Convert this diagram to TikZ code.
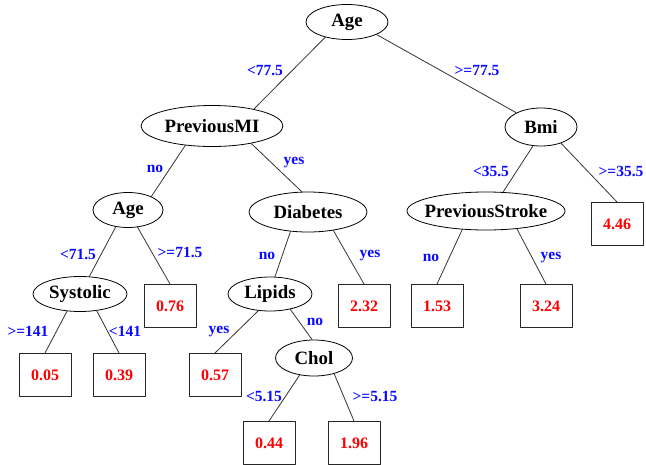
\documentclass[tikz,border=0pt]{standalone}
\usepackage{fontspec}
\setmainfont{Liberation Serif}
\usetikzlibrary{shapes.geometric}
\definecolor{condblue}{RGB}{10,10,255}
\definecolor{leafred}{RGB}{255,0,0}
\begin{document}
\begin{tikzpicture}[x=1pt,y=-1pt,line join=round,line cap=round,
	test/.style={ellipse,draw,line width=0.8pt,inner xsep=-40pt,inner ysep=0pt,
		font=\fontsize{18.8}{20}\selectfont\bfseries},
	leaf/.style={draw=black!85,line width=1pt,minimum width=52pt,minimum height=43pt,
		inner sep=0pt,text=leafred,font=\fontsize{16}{18}\selectfont\bfseries},
	cond/.style={text=condblue,inner sep=0pt,font=\fontsize{15.5}{17}\selectfont\bfseries},
	edge/.style={draw=black!80,line width=0.8pt}]
	\useasboundingbox (0,0) rectangle (646,464);
	% cac nut kiem tra
	\node[test,minimum width=82pt,minimum height=35pt] (age) at (347,22) {Age};
	\node[test,minimum width=142pt,minimum height=41pt] (prevmi) at (212,126) {PreviousMI};
	\node[test,minimum width=72pt,minimum height=38pt] (bmi) at (541,127) {Bmi};
	\node[test,minimum width=70pt,minimum height=35pt] (ageb) at (128,210) {Age};
	\node[test,minimum width=118pt,minimum height=40pt] (diab) at (308,212) {Diabetes};
	\node[test,minimum width=158pt,minimum height=38pt] (prevstroke) at (486,211) {PreviousStroke};
	\node[test,minimum width=94pt,minimum height=35pt] (syst) at (80,294) {Systolic};
	\node[test,minimum width=84pt,minimum height=34pt] (lipids) at (270,294) {Lipids};
	\node[test,minimum width=77pt,minimum height=36pt] (chol) at (314,358) {Chol};
	% cac la
	\node[leaf] (l446) at (617,224) {4.46};
	\node[leaf] (l076) at (170,306) {0.76};
	\node[leaf] (l232) at (364,306) {2.32};
	\node[leaf] (l153) at (437,306) {1.53};
	\node[leaf] (l324) at (546,306) {3.24};
	\node[leaf] (l005) at (45,375) {0.05};
	\node[leaf] (l039) at (119,375) {0.39};
	\node[leaf] (l057) at (215,375) {0.57};
	\node[leaf] (l044) at (269,443) {0.44};
	\node[leaf] (l196) at (354,443) {1.96};
	% cac canh
	\draw[edge] (age.215) -- (prevmi.22);
	\draw[edge] (age.337) -- (bmi.150);
	\draw[edge] (prevmi.216) -- (ageb.30);
	\draw[edge] (prevmi.336) -- (diab.107);
	\draw[edge] (bmi.247) -- (prevstroke.48);
	\draw[edge] (bmi.321) -- (l446.north);
	\draw[edge] (ageb.234) -- (syst.62);
	\draw[edge] (ageb.299) -- (l076.north);
	\draw[edge] (diab.228) -- (lipids.74);
	\draw[edge] (diab.324) -- (l232.north);
	\draw[edge] (prevstroke.218) -- (l153.north);
	\draw[edge] (prevstroke.330) -- (l324.north);
	\draw[edge] (syst.233) -- (l005.north);
	\draw[edge] (syst.315) -- (l039.north);
	\draw[edge] (lipids.235) -- (l057.north);
	\draw[edge] (lipids.323) -- (chol.96);
	\draw[edge] (chol.230) -- (l044.north);
	\draw[edge] (chol.322) -- (l196.north);
	% nhan tren canh
	\node[cond] (c1) at (265,71) {<77.5};
	\node[cond] (c2) at (477,71) {>=77.5};
	\node[cond] (c3) at (155,169) {no};
	\node[cond] (c4) at (294,163) {yes};
	\node[cond] (c5) at (491,171) {<35.5};
	\node[cond] (c6) at (621,171) {>=35.5};
	\node[cond] (c7) at (78,254) {<71.5};
	\node[cond] (c8) at (180,252) {>=71.5};
	\node[cond] (c9) at (267,256) {no};
	\node[cond] (c10) at (370,256) {yes};
	\node[cond] (c11) at (431,258) {no};
	\node[cond] (c12) at (551,258) {yes};
	\node[cond] (c13) at (28,331) {>=141};
	\node[cond] (c14) at (125,331) {<141};
	\node[cond] (c15) at (219,332) {yes};
	\node[cond] (c16) at (315,322) {no};
	\node[cond] (c17) at (264,396) {<5.15};
	\node[cond] (c18) at (375,396) {>=5.15};
\end{tikzpicture}
\end{document}
